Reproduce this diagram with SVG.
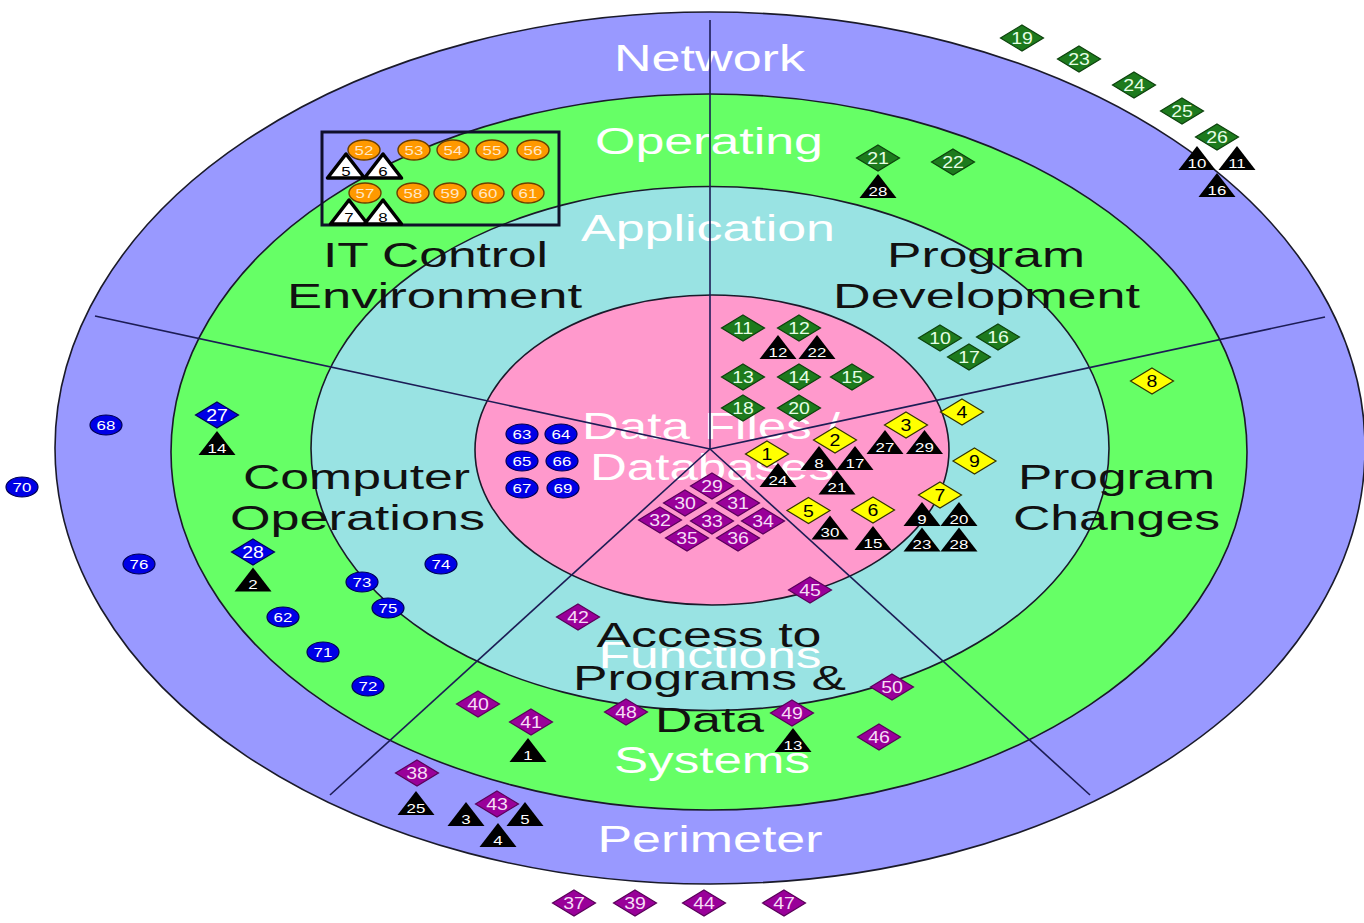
<svg xmlns="http://www.w3.org/2000/svg" width="1364" height="923" viewBox="0 0 1364 923">
<style>
  text{font-family:"Liberation Sans",Arial,Helvetica,sans-serif;text-anchor:middle}
  .ring{stroke:#1a1a2a;stroke-width:1.6}
  .rl{font-size:36px;fill:#ffffff}
  .sl{font-size:35px;fill:#111111}
  #sector-lines line{stroke:#1c1c55;stroke-width:1.6}
  .g{fill:#1d7a1d;stroke:#0c420c;stroke-width:1.2}
  .y{fill:#ffff00;stroke:#333300;stroke-width:1.2}
  .p{fill:#990099;stroke:#5a005a;stroke-width:1.2}
  .b{fill:#0000e6;stroke:#000055;stroke-width:1.2}
  .o{fill:#ff9900;stroke:#6a3f00;stroke-width:1.4}
  .k{fill:#000000}
  .w{fill:#ffffff;stroke:#000000;stroke-width:3.5;stroke-linejoin:round}
  .n{font-size:16px;transform:scale(1.22,1)}
  .m{font-size:12.5px;transform:scale(1.35,1)}
  .wt{fill:#ffffff}
  .gt{fill:#e6ffe6}
  .pt{fill:#f6dcf6}
  .ot{fill:#ffe8c8}
  .bt{fill:#000000}
</style>
<defs>
  <path id="dm" d="M0-13L21.5 0L0 13L-21.5 0Z"/>
  <path id="tr" d="M0-12L18.5 12L-18.5 12Z"/>
  <ellipse id="ci" rx="16" ry="10"/>
</defs>

<rect width="1364" height="923" fill="#ffffff"/>

<!-- concentric layers -->
<g id="layers">
  <ellipse id="ring-network" class="ring" cx="710" cy="448" rx="655" ry="436" fill="#9999ff"/>
  <ellipse id="ring-operating" class="ring" cx="709" cy="452" rx="538" ry="358" fill="#66ff66"/>
  <ellipse id="ring-application" class="ring" cx="710" cy="448.5" rx="399" ry="262" fill="#99e3e3"/>
  <ellipse id="ring-data" class="ring" cx="712" cy="450" rx="237" ry="155" fill="#ff99cc"/>
</g>

<!-- layer names -->
<g id="layer-labels">
  <text class="rl" x="709.5" y="71" textLength="191" lengthAdjust="spacingAndGlyphs">Network</text>
  <text class="rl" x="709" y="154" textLength="228" lengthAdjust="spacingAndGlyphs">Operating</text>
  <text class="rl" x="708" y="241" textLength="254" lengthAdjust="spacingAndGlyphs">Application</text>
  <text class="rl" x="711" y="439" textLength="258" lengthAdjust="spacingAndGlyphs">Data Files /</text>
  <text class="rl" x="712" y="480" textLength="244" lengthAdjust="spacingAndGlyphs">Databases</text>
  <text class="rl" x="710" y="668" textLength="223" lengthAdjust="spacingAndGlyphs">Functions</text>
  <text class="rl" x="712" y="773" textLength="196" lengthAdjust="spacingAndGlyphs">Systems</text>
  <text class="rl" x="710" y="852" textLength="225" lengthAdjust="spacingAndGlyphs">Perimeter</text>
</g>

<!-- radial sector dividers -->
<g id="sector-lines">
  <line x1="710" y1="449" x2="710" y2="20"/>
  <line x1="710" y1="449" x2="95" y2="316"/>
  <line x1="710" y1="449" x2="1325" y2="317"/>
  <line x1="710" y1="449" x2="330" y2="795"/>
  <line x1="710" y1="449" x2="1090" y2="795"/>
</g>

<!-- IT control box -->
<rect id="it-box" x="322" y="132" width="237" height="93" fill="none" stroke="#10102a" stroke-width="3"/>

<!-- triangles -->
<g id="triangles">
  <g id="tw5" transform="translate(346 166)"><use href="#tr" class="w"/><text class="m bt" y="9.5">5</text></g>
  <g id="tw6" transform="translate(383 166)"><use href="#tr" class="w"/><text class="m bt" y="9.5">6</text></g>
  <g id="tw7" transform="translate(349 212)"><use href="#tr" class="w"/><text class="m bt" y="9.5">7</text></g>
  <g id="tw8" transform="translate(383 212)"><use href="#tr" class="w"/><text class="m bt" y="9.5">8</text></g>

  <g id="t28a" transform="translate(878 186)"><use href="#tr" class="k"/><text class="m wt" y="9.5">28</text></g>
  <g id="t10" transform="translate(1197 158)"><use href="#tr" class="k"/><text class="m wt" y="9.5">10</text></g>
  <g id="t11" transform="translate(1237 158)"><use href="#tr" class="k"/><text class="m wt" y="9.5">11</text></g>
  <g id="t16" transform="translate(1217 185)"><use href="#tr" class="k"/><text class="m wt" y="9.5">16</text></g>
  <g id="t12" transform="translate(778 347)"><use href="#tr" class="k"/><text class="m wt" y="9.5">12</text></g>
  <g id="t22" transform="translate(817 347)"><use href="#tr" class="k"/><text class="m wt" y="9.5">22</text></g>
  <g id="t27" transform="translate(885 442)"><use href="#tr" class="k"/><text class="m wt" y="9.5">27</text></g>
  <g id="t29" transform="translate(924.5 442)"><use href="#tr" class="k"/><text class="m wt" y="9.5">29</text></g>
  <g id="t8" transform="translate(819 458)"><use href="#tr" class="k"/><text class="m wt" y="9.5">8</text></g>
  <g id="t17" transform="translate(855 458)"><use href="#tr" class="k"/><text class="m wt" y="9.5">17</text></g>
  <g id="t21" transform="translate(837 482.5)"><use href="#tr" class="k"/><text class="m wt" y="9.5">21</text></g>
  <g id="t24" transform="translate(778 475)"><use href="#tr" class="k"/><text class="m wt" y="9.5">24</text></g>
  <g id="t30" transform="translate(830 527.5)"><use href="#tr" class="k"/><text class="m wt" y="9.5">30</text></g>
  <g id="t15" transform="translate(873 538)"><use href="#tr" class="k"/><text class="m wt" y="9.5">15</text></g>
  <g id="t9" transform="translate(922 514)"><use href="#tr" class="k"/><text class="m wt" y="9.5">9</text></g>
  <g id="t20" transform="translate(959 514)"><use href="#tr" class="k"/><text class="m wt" y="9.5">20</text></g>
  <g id="t23" transform="translate(922 539.5)"><use href="#tr" class="k"/><text class="m wt" y="9.5">23</text></g>
  <g id="t28b" transform="translate(959 539.5)"><use href="#tr" class="k"/><text class="m wt" y="9.5">28</text></g>
  <g id="t14" transform="translate(217 443)"><use href="#tr" class="k"/><text class="m wt" y="9.5">14</text></g>
  <g id="t2" transform="translate(253 579.5)"><use href="#tr" class="k"/><text class="m wt" y="9.5">2</text></g>
  <g id="t1" transform="translate(528 750)"><use href="#tr" class="k"/><text class="m wt" y="9.5">1</text></g>
  <g id="t13" transform="translate(793 740)"><use href="#tr" class="k"/><text class="m wt" y="9.5">13</text></g>
  <g id="t25" transform="translate(416 803)"><use href="#tr" class="k"/><text class="m wt" y="9.5">25</text></g>
  <g id="t3" transform="translate(466 814)"><use href="#tr" class="k"/><text class="m wt" y="9.5">3</text></g>
  <g id="t5" transform="translate(525 814)"><use href="#tr" class="k"/><text class="m wt" y="9.5">5</text></g>
  <g id="t4" transform="translate(498 835)"><use href="#tr" class="k"/><text class="m wt" y="9.5">4</text></g>
</g>

<!-- green diamonds -->
<g id="green-items">
  <g id="dg19" transform="translate(1022 38)"><use href="#dm" class="g"/><text class="n gt" y="6">19</text></g>
  <g id="dg23" transform="translate(1079 59)"><use href="#dm" class="g"/><text class="n gt" y="6">23</text></g>
  <g id="dg24" transform="translate(1134 85)"><use href="#dm" class="g"/><text class="n gt" y="6">24</text></g>
  <g id="dg25" transform="translate(1182 111)"><use href="#dm" class="g"/><text class="n gt" y="6">25</text></g>
  <g id="dg26" transform="translate(1217 137)"><use href="#dm" class="g"/><text class="n gt" y="6">26</text></g>
  <g id="dg21" transform="translate(878 158)"><use href="#dm" class="g"/><text class="n gt" y="6">21</text></g>
  <g id="dg22" transform="translate(953 162)"><use href="#dm" class="g"/><text class="n gt" y="6">22</text></g>
  <g id="dg11" transform="translate(743 328)"><use href="#dm" class="g"/><text class="n gt" y="6">11</text></g>
  <g id="dg12" transform="translate(799 328)"><use href="#dm" class="g"/><text class="n gt" y="6">12</text></g>
  <g id="dg13" transform="translate(743 377)"><use href="#dm" class="g"/><text class="n gt" y="6">13</text></g>
  <g id="dg14" transform="translate(799 377)"><use href="#dm" class="g"/><text class="n gt" y="6">14</text></g>
  <g id="dg15" transform="translate(852 377)"><use href="#dm" class="g"/><text class="n gt" y="6">15</text></g>
  <g id="dg18" transform="translate(743 408)"><use href="#dm" class="g"/><text class="n gt" y="6">18</text></g>
  <g id="dg20" transform="translate(799 408)"><use href="#dm" class="g"/><text class="n gt" y="6">20</text></g>
  <g id="dg10" transform="translate(940 338)"><use href="#dm" class="g"/><text class="n gt" y="6">10</text></g>
  <g id="dg16" transform="translate(998 337)"><use href="#dm" class="g"/><text class="n gt" y="6">16</text></g>
  <g id="dg17" transform="translate(969 357)"><use href="#dm" class="g"/><text class="n gt" y="6">17</text></g>
</g>

<!-- yellow diamonds -->
<g id="yellow-items">
  <g id="dy1" transform="translate(767 454)"><use href="#dm" class="y"/><text class="n bt" y="6">1</text></g>
  <g id="dy2" transform="translate(835 440)"><use href="#dm" class="y"/><text class="n bt" y="6">2</text></g>
  <g id="dy3" transform="translate(906 425)"><use href="#dm" class="y"/><text class="n bt" y="6">3</text></g>
  <g id="dy4" transform="translate(962 412)"><use href="#dm" class="y"/><text class="n bt" y="6">4</text></g>
  <g id="dy5" transform="translate(808.5 510.5)"><use href="#dm" class="y"/><text class="n bt" y="6">5</text></g>
  <g id="dy6" transform="translate(873 510)"><use href="#dm" class="y"/><text class="n bt" y="6">6</text></g>
  <g id="dy7" transform="translate(940 495)"><use href="#dm" class="y"/><text class="n bt" y="6">7</text></g>
  <g id="dy8" transform="translate(1152 381)"><use href="#dm" class="y"/><text class="n bt" y="6">8</text></g>
  <g id="dy9" transform="translate(974.5 461)"><use href="#dm" class="y"/><text class="n bt" y="6">9</text></g>
</g>

<!-- purple diamonds -->
<g id="purple-items">
  <g id="dp29" transform="translate(712 486)"><use href="#dm" class="p"/><text class="n pt" y="6">29</text></g>
  <g id="dp30" transform="translate(685 503)"><use href="#dm" class="p"/><text class="n pt" y="6">30</text></g>
  <g id="dp31" transform="translate(738 503)"><use href="#dm" class="p"/><text class="n pt" y="6">31</text></g>
  <g id="dp32" transform="translate(660 520)"><use href="#dm" class="p"/><text class="n pt" y="6">32</text></g>
  <g id="dp33" transform="translate(712 521)"><use href="#dm" class="p"/><text class="n pt" y="6">33</text></g>
  <g id="dp34" transform="translate(763 521)"><use href="#dm" class="p"/><text class="n pt" y="6">34</text></g>
  <g id="dp35" transform="translate(687 538)"><use href="#dm" class="p"/><text class="n pt" y="6">35</text></g>
  <g id="dp36" transform="translate(738 538)"><use href="#dm" class="p"/><text class="n pt" y="6">36</text></g>
  <g id="dp45" transform="translate(810 590)"><use href="#dm" class="p"/><text class="n pt" y="6">45</text></g>
  <g id="dp42" transform="translate(578 617)"><use href="#dm" class="p"/><text class="n pt" y="6">42</text></g>
  <g id="dp40" transform="translate(478 704)"><use href="#dm" class="p"/><text class="n pt" y="6">40</text></g>
  <g id="dp41" transform="translate(531 722)"><use href="#dm" class="p"/><text class="n pt" y="6">41</text></g>
  <g id="dp48" transform="translate(626 712)"><use href="#dm" class="p"/><text class="n pt" y="6">48</text></g>
  <g id="dp49" transform="translate(792 713)"><use href="#dm" class="p"/><text class="n pt" y="6">49</text></g>
  <g id="dp50" transform="translate(892 687)"><use href="#dm" class="p"/><text class="n pt" y="6">50</text></g>
  <g id="dp46" transform="translate(879 737)"><use href="#dm" class="p"/><text class="n pt" y="6">46</text></g>
  <g id="dp38" transform="translate(417 773)"><use href="#dm" class="p"/><text class="n pt" y="6">38</text></g>
  <g id="dp43" transform="translate(497 804)"><use href="#dm" class="p"/><text class="n pt" y="6">43</text></g>
  <g id="dp37" transform="translate(574 903)"><use href="#dm" class="p"/><text class="n pt" y="6">37</text></g>
  <g id="dp39" transform="translate(635 903)"><use href="#dm" class="p"/><text class="n pt" y="6">39</text></g>
  <g id="dp44" transform="translate(704 903)"><use href="#dm" class="p"/><text class="n pt" y="6">44</text></g>
  <g id="dp47" transform="translate(784 903)"><use href="#dm" class="p"/><text class="n pt" y="6">47</text></g>
</g>

<!-- blue items -->
<g id="blue-items">
  <g id="db27" transform="translate(217 415)"><use href="#dm" class="b"/><text class="n wt" y="6">27</text></g>
  <g id="db28" transform="translate(253 552)"><use href="#dm" class="b"/><text class="n wt" y="6">28</text></g>
  <g id="cb63" transform="translate(522 434)"><use href="#ci" class="b"/><text class="m wt" y="4.5">63</text></g>
  <g id="cb64" transform="translate(561 434)"><use href="#ci" class="b"/><text class="m wt" y="4.5">64</text></g>
  <g id="cb65" transform="translate(522 461)"><use href="#ci" class="b"/><text class="m wt" y="4.5">65</text></g>
  <g id="cb66" transform="translate(562 461)"><use href="#ci" class="b"/><text class="m wt" y="4.5">66</text></g>
  <g id="cb67" transform="translate(522 488)"><use href="#ci" class="b"/><text class="m wt" y="4.5">67</text></g>
  <g id="cb69" transform="translate(563 488)"><use href="#ci" class="b"/><text class="m wt" y="4.5">69</text></g>
  <g id="cb68" transform="translate(106 425)"><use href="#ci" class="b"/><text class="m wt" y="4.5">68</text></g>
  <g id="cb70" transform="translate(22 487)"><use href="#ci" class="b"/><text class="m wt" y="4.5">70</text></g>
  <g id="cb76" transform="translate(139 564)"><use href="#ci" class="b"/><text class="m wt" y="4.5">76</text></g>
  <g id="cb74" transform="translate(441 564)"><use href="#ci" class="b"/><text class="m wt" y="4.5">74</text></g>
  <g id="cb73" transform="translate(362 582)"><use href="#ci" class="b"/><text class="m wt" y="4.5">73</text></g>
  <g id="cb75" transform="translate(388 608)"><use href="#ci" class="b"/><text class="m wt" y="4.5">75</text></g>
  <g id="cb62" transform="translate(283 617)"><use href="#ci" class="b"/><text class="m wt" y="4.5">62</text></g>
  <g id="cb71" transform="translate(323 652)"><use href="#ci" class="b"/><text class="m wt" y="4.5">71</text></g>
  <g id="cb72" transform="translate(368 686)"><use href="#ci" class="b"/><text class="m wt" y="4.5">72</text></g>
</g>

<!-- orange items -->
<g id="orange-items">
  <g id="co52" transform="translate(364 150)"><use href="#ci" class="o"/><text class="m ot" y="4.5">52</text></g>
  <g id="co53" transform="translate(414 150)"><use href="#ci" class="o"/><text class="m ot" y="4.5">53</text></g>
  <g id="co54" transform="translate(453 150)"><use href="#ci" class="o"/><text class="m ot" y="4.5">54</text></g>
  <g id="co55" transform="translate(492 150)"><use href="#ci" class="o"/><text class="m ot" y="4.5">55</text></g>
  <g id="co56" transform="translate(533 150)"><use href="#ci" class="o"/><text class="m ot" y="4.5">56</text></g>
  <g id="co57" transform="translate(365 193)"><use href="#ci" class="o"/><text class="m ot" y="4.5">57</text></g>
  <g id="co58" transform="translate(413 193)"><use href="#ci" class="o"/><text class="m ot" y="4.5">58</text></g>
  <g id="co59" transform="translate(450 193)"><use href="#ci" class="o"/><text class="m ot" y="4.5">59</text></g>
  <g id="co60" transform="translate(488 193)"><use href="#ci" class="o"/><text class="m ot" y="4.5">60</text></g>
  <g id="co61" transform="translate(528 193)"><use href="#ci" class="o"/><text class="m ot" y="4.5">61</text></g>
</g>

<!-- sector names -->
<g id="sector-labels">
  <text class="sl" x="435.5" y="267" textLength="225" lengthAdjust="spacingAndGlyphs">IT Control</text>
  <text class="sl" x="434.5" y="308" textLength="295" lengthAdjust="spacingAndGlyphs">Environment</text>
  <text class="sl" x="986" y="267" textLength="198" lengthAdjust="spacingAndGlyphs">Program</text>
  <text class="sl" x="986.5" y="308" textLength="307" lengthAdjust="spacingAndGlyphs">Development</text>
  <text class="sl" x="356.5" y="489" textLength="227" lengthAdjust="spacingAndGlyphs">Computer</text>
  <text class="sl" x="357.5" y="530" textLength="255" lengthAdjust="spacingAndGlyphs">Operations</text>
  <text class="sl" x="1116.5" y="489" textLength="197" lengthAdjust="spacingAndGlyphs">Program</text>
  <text class="sl" x="1116.5" y="530" textLength="207" lengthAdjust="spacingAndGlyphs">Changes</text>
  <text class="sl" x="709" y="647" textLength="225" lengthAdjust="spacingAndGlyphs">Access to</text>
  <text class="sl" x="709.5" y="690" textLength="273" lengthAdjust="spacingAndGlyphs">Programs &amp;</text>
  <text class="sl" x="709.5" y="732" textLength="109" lengthAdjust="spacingAndGlyphs">Data</text>
</g>
</svg>
